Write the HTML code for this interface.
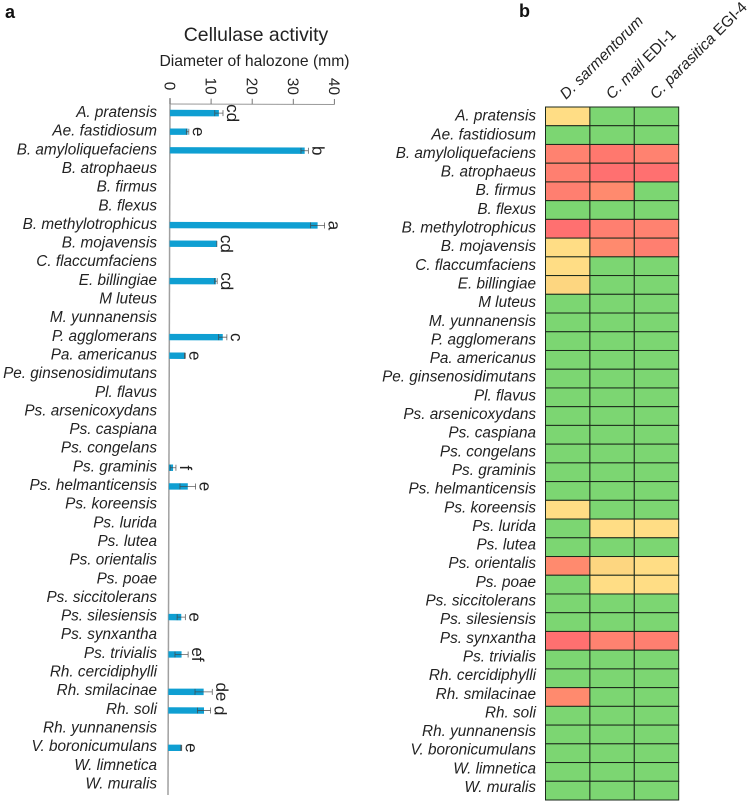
<!DOCTYPE html>
<html lang="en">
<head>
<meta charset="utf-8">
<title>Cellulase activity</title>
<style>
html,body{margin:0;padding:0;background:#fff;width:749px;height:804px;overflow:hidden}
svg{display:block;font-family:"Liberation Sans",sans-serif;fill:#222}
.sp{font-style:italic;font-size:15.3px;text-anchor:end}
</style>
</head>
<body>
<svg id="chart" xmlns="http://www.w3.org/2000/svg" width="749" height="804" viewBox="0 0 749 804">
  <text x="5" y="18" font-size="18" font-weight="bold" fill="#111">a</text>
  <text x="519" y="17" font-size="18" font-weight="bold" fill="#111">b</text>
  <text x="256" y="41" font-size="19.4" text-anchor="middle">Cellulase activity</text>
  <text x="254.5" y="66" font-size="15.7" text-anchor="middle">Diameter of halozone (mm)</text>
  <g id="barPanel" transform="rotate(0.166 170 104)"></g>
  <g id="barLabels"></g>
  <g id="heatPanel"></g>
  <g id="heatLabels"></g>
  <g font-size="15.4">
    <text transform="translate(566 100) rotate(-45)" font-style="italic">D. sarmentorum</text>
    <text transform="translate(612 100) rotate(-45)"><tspan font-style="italic">C. mail</tspan> EDI-1</text>
    <text transform="translate(656 100) rotate(-45)"><tspan font-style="italic">C. parasitica</tspan> EGI-4</text>
  </g>
</svg>
<script>
const species = ["A. pratensis","Ae. fastidiosum","B. amyloliquefaciens","B. atrophaeus","B. firmus","B. flexus","B. methylotrophicus","B. mojavensis","C. flaccumfaciens","E. billingiae","M luteus","M. yunnanensis","P. agglomerans","Pa. americanus","Pe. ginsenosidimutans","Pl. flavus","Ps. arsenicoxydans","Ps. caspiana","Ps. congelans","Ps. graminis","Ps. helmanticensis","Ps. koreensis","Ps. lurida","Ps. lutea","Ps. orientalis","Ps. poae","Ps. siccitolerans","Ps. silesiensis","Ps. synxantha","Ps. trivialis","Rh. cercidiphylli","Rh. smilacinae","Rh. soli","Rh. yunnanensis","V. boronicumulans","W. limnetica","W. muralis"];
const activity = [11.9,4.3,32.8,0,0,0,36,11.5,0,11.3,0,0,13,3.8,0,0,0,0,0,1,4.6,0,0,0,0,0,0,3.1,0,3.2,0,8.6,8.7,0,3.2,0,0];
const activityError = [1,0.3,0.9,0,0,0,1.7,0,0,0.3,0,0,1,0.1,0,0,0,0,0,0.7,1.9,0,0,0,0,0,0,1,0,1.6,0,2.1,1.6,0,0.1,0,0];
const significance = ["cd","e","b","","","","a","cd","","cd","","","c","e","","","","","","f","e","","","","","","","e","","ef","","de","d","","e","",""];
const xTicks = [0,10,20,30,40];
const heatColumns = ["D. sarmentorum","C. mail EDI-1","C. parasitica EGI-4"];
const heatD = [1,0,3,3.2,3.2,0,4,1,1,1.2,0,0,0,0,0,0,0,0,0,0,0,1,0,0,2,0,0,0,4,0,0,2,0,0,0,0,0];
const heatMail = [0,0,3.5,4,2,0,3.3,2,0,0,0,0,0,0,0,0,0,0,0,0,0,0,1,0,1.2,1,0,0,3,0,0,0,0,0,0,0,0];
const heatParasitica = [0,0,3,4,0,0,2.8,3.2,0,0,0,0,0,0,0,0,0,0,0,0,0,0,1,0,1,1,0,0,3.3,0,0,0,0,0,0,0,0];

const NS = "http://www.w3.org/2000/svg";
function make(parent, tag, attrs, text) {
  const el = document.createElementNS(NS, tag);
  for (const k in attrs) el.setAttribute(k, attrs[k]);
  if (text !== undefined) el.textContent = text;
  parent.appendChild(el);
  return el;
}
const xScale = v => 170 + v * 4.11;
const barY = i => 113 + i * 18.67;
const labelY = i => 117 + i * 18.65;
const heatX = c => 545.5 + c * 44.4;
const heatY = r => 107 + r * 18.73;
function heatColor(v) {
  if (v < 0.5) return "#7cd672";
  if (v < 1.1) return "#ffdd85";
  if (v < 1.5) return "#fdd680";
  if (v < 2.5) return "#ff8a6e";
  if (v < 3.1) return "#ff8270";
  if (v < 3.4) return "#ff7f70";
  if (v < 3.8) return "#ff786e";
  return "#ff7070";
}

const barPanel = document.getElementById("barPanel");
const barLabels = document.getElementById("barLabels");
const heatPanel = document.getElementById("heatPanel");
const heatLabels = document.getElementById("heatLabels");

const yAxis = make(barPanel, "line", {x1: xScale(0), x2: xScale(0), y1: 98, y2: 795, stroke: "#a0a0a0", "stroke-width": 1.5});


const xAxis = make(barPanel, "line", {x1: xScale(0), x2: xScale(40), y1: 104, y2: 104, stroke: "#999", "stroke-width": 1});



xTicks.forEach(t => {
  const tick = make(barPanel, "line", {x1: xScale(t), x2: xScale(t), y1: 98.5, y2: 104, stroke: "#777", "stroke-width": 1});
  
  
  const lab = make(barPanel, "text", {transform: "translate(" + (xScale(t) - 5.5) + " 86) rotate(90)", "font-size": 15.4, "text-anchor": "middle"}, String(t));
  
  
});

species.forEach((name, i) => {
  const lab = make(barLabels, "text", {class: "sp", x: 157, y: labelY(i)}, name);
  
  

  const lab2 = make(heatLabels, "text", {class: "sp", x: 536, y: labelY(i) + 3.6}, name);
  
  

  const v = activity[i];
  if (v > 0) {
    const e = activityError[i];
    const y = barY(i);
    const bar = make(barPanel, "rect", {x: xScale(0), y: y - 3.2, width: xScale(v) - xScale(0), height: 6.4, fill: "#0f9fd2"});
    
    
    const err = make(barPanel, "path", {
      d: "M" + xScale(v - e) + " " + y + "H" + xScale(v + e) +
         "M" + xScale(v - e) + " " + (y - 3) + "V" + (y + 3) +
         "M" + xScale(v + e) + " " + (y - 3) + "V" + (y + 3),
      stroke: "#444", "stroke-width": 0.8, fill: "none", opacity: 0.85
    });
    
    
    const sig = make(barPanel, "text", {transform: "translate(" + (xScale(v + e) + 4) + " " + y + ") rotate(90)", "font-size": 17, "text-anchor": "middle"}, significance[i]);
    
    
  }

  [heatD, heatMail, heatParasitica].forEach((col, c) => {
    const cell = make(heatPanel, "rect", {x: heatX(c), y: heatY(i), width: 44.4, height: 18.73, fill: heatColor(col[i]), stroke: "#1c2a1c", "stroke-width": 1});
    
    
  });
});
</script>
</body>
</html>
